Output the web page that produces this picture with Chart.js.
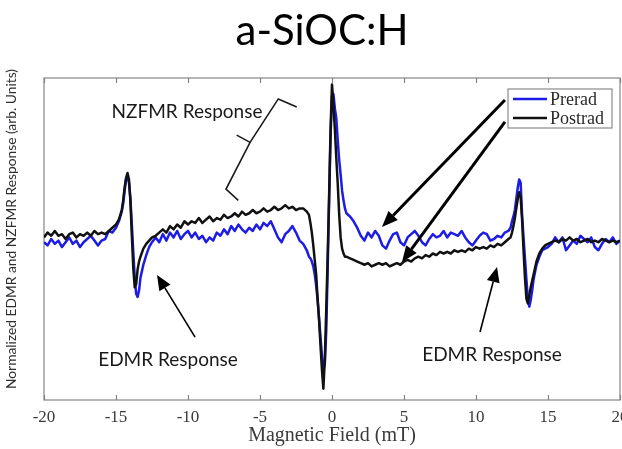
<!DOCTYPE html>
<html>
<head>
<meta charset="utf-8">
<script src="https://cdn.jsdelivr.net/npm/chart.js@4.4.0/dist/chart.umd.min.js"></script>
<style>
  html, body { margin: 0; padding: 0; background: #fff; }
  #wrap { width: 622px; height: 449px; }
</style>
</head>
<body>
<div id="wrap"><canvas id="c" width="622" height="449"></canvas></div>
<script>
// Magnetic field sweep (mT)
const field = [
  -20, -19.75, -19.5, -19.25, -19, -18.75, -18.5, -18.25, -18, -17.75, -17.5, -17.25, -17, -16.75, -16.5, -16.25, -16, -15.75, -15.5,
  -15.25, -15, -14.8, -14.6, -14.5, -14.4, -14.3, -14.2, -14.1, -14, -13.9, -13.8, -13.7, -13.6, -13.5, -13.4, -13.3, -13.1, -12.9, -12.7, -12.5, -12.25, -12,
  -11.75, -11.5, -11.25, -11, -10.75, -10.5, -10.25, -10, -9.75, -9.5, -9.25, -9, -8.75, -8.5, -8.25, -8, -7.75, -7.5, -7.25, -7,
  -6.75, -6.5, -6.25, -6, -5.75, -5.5, -5.25, -5, -4.75, -4.5, -4.25, -4, -3.75, -3.5, -3.25, -3, -2.75, -2.5, -2.25, -2, -1.75,
  -1.6, -1.5, -1.4, -1.3, -1.2, -1.1, -1, -0.9, -0.8, -0.7, -0.6, -0.5, -0.4, -0.3, -0.2, -0.1, 0, 0.1, 0.2, 0.3, 0.4, 0.5, 0.6, 0.7, 0.8, 0.9, 1, 1.25, 1.5,
  1.75, 2, 2.25, 2.5, 2.75, 3, 3.25, 3.5, 3.75, 4, 4.25, 4.5, 4.75, 5, 5.25, 5.5, 5.75, 6, 6.25, 6.5, 6.75,
  7, 7.25, 7.5, 7.75, 8, 8.25, 8.5, 8.75, 9, 9.25, 9.5, 9.75, 10, 10.25, 10.5, 10.75, 11, 11.25, 11.5, 11.75, 12, 12.25,
  12.4, 12.5, 12.6, 12.7, 12.8, 12.9, 13, 13.1, 13.2, 13.3, 13.4, 13.5, 13.6, 13.7, 13.8, 13.9, 14, 14.2, 14.4, 14.6, 14.8, 15,
  15.25, 15.5, 15.75, 16, 16.25, 16.5, 16.75, 17, 17.25, 17.5, 17.75, 18, 18.25, 18.5, 18.75, 19, 19.25, 19.5, 19.75, 20
];

// Normalized response before irradiation (arb. units)
const prerad = [
  -2, -4, 0, -3, -1, -5, -2, 1, -3, -1, -5, -2, 0, 2, -1, -4, -1, 0, 5,
  4, 7, 11, 17, 22, 30, 37, 39, 35, 25, 9, -8, -24, -34, -36, -32, -24, -16, -10, -5, -2, 1, -2,
  3, -1, 4, 1, 5, 0, 3, 5, 1, 4, 0, 2, -2, 1, -1, 4, 2, 6, 3, 8,
  5, 9, 6, 4, 7, 5, 9, 6, 10, 8, 11, 6, 1, -2, 3, 5, 8, 4, -1, -3, -7,
  -11, -12, -14, -17, -22, -29, -38, -49, -61, -72, -81, -78, -57, -19, 24, 64, 89, 90, 81, 75, 61, 49, 40, 30, 24, 19, 16, 14, 11,
  7, 2, -1, 4, 1, 5, 2, -4, -6, -1, 3, 4, -2, -4, 1, 3, 5, 2, -2, -4, 0,
  3, 1, 2, 5, 1, 4, 3, 2, 5, 1, -2, -4, -1, 2, 4, 3, -1, 0, 2, 1, 4, 5,
  7, 11, 14, 18, 25, 32, 37, 35, 15, 1, -12, -25, -37, -42, -38, -32, -25, -16, -11, -7, -6, -5,
  -3, 1, -2, 1, -7, -4, -1, -3, 2, 0, -2, 1, -5, -7, -3, 0, -2, 1, -3, -1
];

// Normalized response after irradiation (arb. units)
const postrad = [
  1, 4, 2, 5, 2, 3, 0, 3, 4, 1, 3, 2, 4, 2, 5, 3, 4, 3, 5,
  7, 9, 12, 18, 24, 32, 38, 41, 37, 24, 2, -18, -30, -28, -19, -14, -11, -6, -3, -1, 1, 2, 4,
  6, 4, 8, 6, 9, 7, 11, 9, 11, 10, 13, 10, 12, 14, 11, 13, 12, 15, 13, 14,
  16, 14, 17, 15, 16, 18, 16, 17, 19, 17, 18, 20, 18, 19, 21, 19, 20, 18, 19, 19, 17,
  15, 10, 4, -4, -13, -22, -37, -50, -66, -81, -93, -75, -44, -10, 27, 68, 96, 83, 68, 50, 34, 15, 1, -6, -9, -11, -11, -12, -13,
  -14, -15, -16, -15, -17, -16, -15, -16, -15, -17, -16, -15, -16, -14, -13, -14, -12, -11, -12, -10, -11,
  -9, -10, -8, -9, -8, -9, -7, -8, -7, -8, -6, -7, -5, -6, -5, -6, -4, -5, -3, -4, -2, 0,
  1, 4, 8, 13, 19, 25, 29, 26, 12, -7, -24, -37, -40, -35, -30, -26, -22, -14, -9, -6, -4, -3,
  -2, -1, -2, 0, -1, 1, -1, 0, -2, -1, 0, -2, -1, -2, 0, -1, -2, -1, -2, -1
];

const seriesNames = ['Prerad', 'Postrad'];
const xTicks = [-20, -15, -10, -5, 0, 5, 10, 15, 20];
const chartTitle = 'a-SiOC:H';
const yTitle = 'Normalized EDMR and NZFMR Response (arb. Units)';

if (field.length !== prerad.length || field.length !== postrad.length) {
  throw new Error('length mismatch: ' + field.length + ' ' + prerad.length + ' ' + postrad.length);
}

// Callout labels, brace and arrows, placed in data coordinates
const labels = [
  { text: 'NZFMR Response', x: -10.07, y: 79 },
  { text: 'EDMR Response', x: -11.39, y: -75 },
  { text: 'EDMR Response', x: 11.11, y: -72 }
];
const brace = [[-2.45, 82], [-3.73, 87], [-5.69, 60], [-7.36, 31], [-6.51, 24]];
const bracePoint = [[-5.69, 60], [-6.62, 64.5]];
const arrows = [
  { from: [12.01, 86.3], to: [3.47, 7.5], w: 3, head: 16, hw: 13 },
  { from: [12.01, 72.7], to: [4.86, -14.3], w: 3, head: 16, hw: 13 },
  { from: [-9.51, -60.9], to: [-12.15, -22.4], w: 1.6, head: 15, hw: 13 },
  { from: [10.28, -57.8], to: [11.46, -17.4], w: 1.6, head: 15, hw: 13 }
];

const pts = vals => field.map((x, i) => ({ x: x, y: vals[i] }));

function drawArrow(ctx, a, b, lw, headLen, headW) {
  const ang = Math.atan2(b[1] - a[1], b[0] - a[0]);
  const bx = b[0] - Math.cos(ang) * headLen;
  const by = b[1] - Math.sin(ang) * headLen;
  ctx.lineWidth = lw;
  ctx.beginPath();
  ctx.moveTo(a[0], a[1]);
  ctx.lineTo(bx, by);
  ctx.stroke();
  ctx.beginPath();
  ctx.moveTo(b[0], b[1]);
  ctx.lineTo(bx + Math.sin(ang) * headW / 2, by - Math.cos(ang) * headW / 2);
  ctx.lineTo(bx - Math.sin(ang) * headW / 2, by + Math.cos(ang) * headW / 2);
  ctx.closePath();
  ctx.fill();
}

// Heading text, vertical axis title, axis frame and inward tick marks
const framePlugin = {
  id: 'frame',
  beforeDatasetsDraw(chart) {
    const { ctx, chartArea: a, scales } = chart;
    ctx.save();
    ctx.fillStyle = '#000';
    ctx.font = '42px Lato';
    ctx.textAlign = 'center';
    ctx.textBaseline = 'middle';
    ctx.fillText(chartTitle, 322, 31);

    ctx.save();
    ctx.translate(12, 229);
    ctx.rotate(-Math.PI / 2);
    ctx.fillStyle = '#2e2e2e';
    ctx.font = '13.8px Lato';
    ctx.fillText(yTitle, 0, 0);
    ctx.restore();

    ctx.strokeStyle = '#858585';
    ctx.lineWidth = 1.2;
    ctx.strokeRect(a.left, a.top, a.right - a.left, a.bottom - a.top);
    ctx.beginPath();
    xTicks.forEach(v => {
      const x = Math.round(scales.x.getPixelForValue(v)) + 0.5;
      ctx.moveTo(x, a.top); ctx.lineTo(x, a.top + 5);
      ctx.moveTo(x, a.bottom); ctx.lineTo(x, a.bottom - 5);
    });
    ctx.stroke();
    ctx.restore();
  }
};

const notesPlugin = {
  id: 'notes',
  afterDatasetsDraw(chart) {
    const { ctx, chartArea: a, scales } = chart;
    const P = p => [scales.x.getPixelForValue(p[0]), scales.y.getPixelForValue(p[1])];
    ctx.save();
    ctx.fillStyle = '#1a1a1a';
    ctx.strokeStyle = '#1a1a1a';
    ctx.font = '19px Lato';
    ctx.textAlign = 'center';
    ctx.textBaseline = 'middle';
    labels.forEach(l => { const q = P([l.x, l.y]); ctx.fillText(l.text, q[0], q[1]); });

    ctx.lineWidth = 1.6;
    ctx.beginPath();
    brace.forEach((p, i) => { const q = P(p); i ? ctx.lineTo(q[0], q[1]) : ctx.moveTo(q[0], q[1]); });
    ctx.stroke();
    ctx.beginPath();
    bracePoint.forEach((p, i) => { const q = P(p); i ? ctx.lineTo(q[0], q[1]) : ctx.moveTo(q[0], q[1]); });
    ctx.stroke();

    ctx.fillStyle = '#000';
    ctx.strokeStyle = '#000';
    arrows.forEach(r => drawArrow(ctx, P(r.from), P(r.to), r.w, r.head, r.hw));

    // legend box
    const bw = 104, bh = 39;
    const bx = a.right - 8 - bw, by = a.top + 11;
    ctx.fillStyle = '#fff';
    ctx.fillRect(bx, by, bw, bh);
    ctx.strokeStyle = '#8a8a8a';
    ctx.lineWidth = 1.2;
    ctx.strokeRect(bx, by, bw, bh);
    ctx.font = '18px "Liberation Serif"';
    ctx.textAlign = 'left';
    chart.data.datasets.forEach((ds, i) => {
      const y = by + 10 + i * 19;
      ctx.strokeStyle = ds.borderColor;
      ctx.lineWidth = 2.4;
      ctx.beginPath(); ctx.moveTo(bx + 5, y); ctx.lineTo(bx + 39, y); ctx.stroke();
      ctx.fillStyle = '#2a2a2a';
      ctx.fillText(ds.label, bx + 42, y + 1);
    });
    ctx.restore();
  }
};

new Chart(document.getElementById('c'), {
  type: 'line',
  data: {
    datasets: [
      { label: seriesNames[0], data: pts(prerad), borderColor: '#1c1ce6', borderWidth: 2.5, order: 1 },
      { label: seriesNames[1], data: pts(postrad), borderColor: '#111111', borderWidth: 2.5, order: 0 }
    ]
  },
  options: {
    responsive: false,
    animation: false,
    devicePixelRatio: 1,
    elements: { point: { radius: 0 }, line: { tension: 0, borderJoinStyle: 'round' } },
    layout: { autoPadding: false, padding: { left: 0, right: 2, top: 78, bottom: 0 } },
    plugins: {
      legend: { display: false },
      tooltip: { enabled: false },
      title: { display: false }
    },
    scales: {
      x: {
        type: 'linear',
        min: -20, max: 20,
        afterBuildTicks: s => { s.ticks = xTicks.map(v => ({ value: v })); },
        afterFit: s => { s.height = 49; s.paddingLeft = 0; s.paddingRight = 0; },
        grid: { display: false, drawTicks: false },
        border: { display: false },
        ticks: { color: '#3a3a3a', padding: 7, maxRotation: 0, autoSkip: false,
                 font: { family: 'Liberation Serif', size: 17 } },
        title: { display: true, text: 'Magnetic Field (mT)', color: '#3a3a3a',
                 font: { family: 'Liberation Serif', size: 20 }, padding: { top: 0, bottom: 1 } }
      },
      y: {
        min: -100, max: 100,
        afterFit: s => { s.width = 44; },
        grid: { display: false, drawTicks: false },
        border: { display: false },
        ticks: { display: false },
        title: { display: false }
      }
    }
  },
  plugins: [framePlugin, notesPlugin]
});
</script>
</body>
</html>
